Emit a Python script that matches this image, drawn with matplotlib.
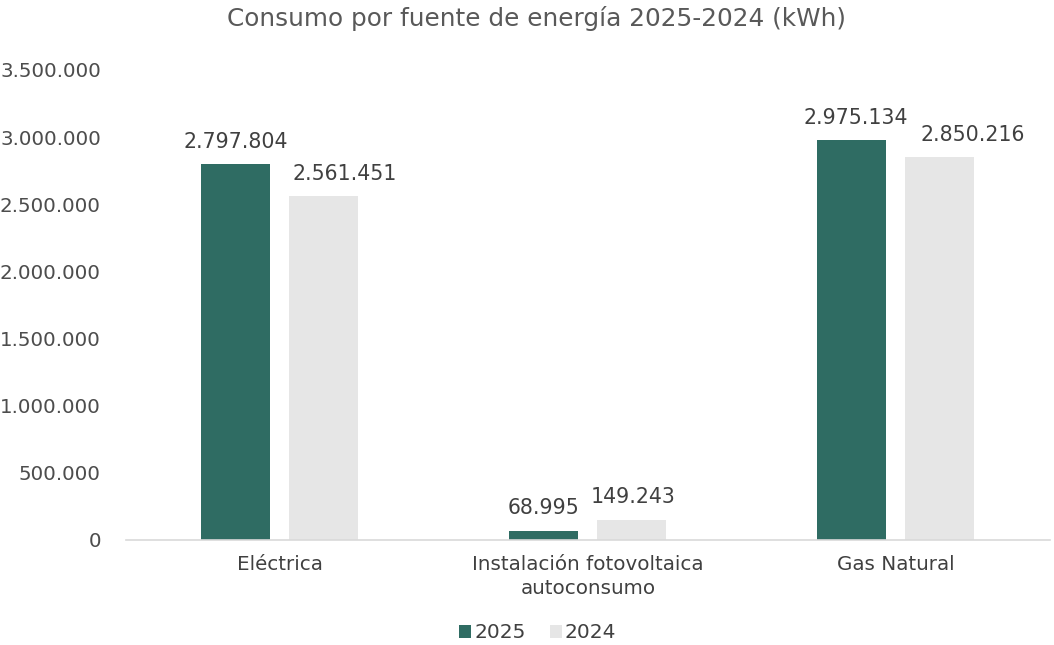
import numpy as np
import matplotlib.pyplot as plt

categories = ['Eléctrica', 'Instalación fotovoltaica\nautoconsumo', 'Gas Natural']
consumo_2025 = [2797804, 68995, 2975134]
consumo_2024 = [2561451, 149243, 2850216]
yticks = [0, 500000, 1000000, 1500000, 2000000, 2500000, 3000000, 3500000]

color_2025 = '#2f6c63'
color_2024 = '#e6e6e6'

# horizontal nudge (points) for the 2024 labels so they clear the 2025 ones
shift_2024 = [15, 1, 24]


def fmt(v):
    return f"{v:,.0f}".replace(",", ".")


plt.rcParams['font.family'] = ['DejaVu Sans']

fig = plt.figure(figsize=(10.54, 6.45), dpi=100)
ax = fig.add_axes([0.1195, 0.1628, 0.8765, 0.7287])

x = np.arange(len(categories))
width = 0.224
offset = 0.143

bars_a = ax.bar(x - offset, consumo_2025, width, color=color_2025, label='2025')
bars_b = ax.bar(x + offset, consumo_2024, width, color=color_2024, label='2024')

for bars, shifts in ((bars_a, [0, 0, 3]), (bars_b, shift_2024)):
    for b, dx in zip(bars, shifts):
        ax.annotate(fmt(b.get_height()),
                    (b.get_x() + b.get_width() / 2, b.get_height()),
                    xytext=(dx, 9), textcoords='offset points',
                    ha='center', va='bottom', fontsize=14.8, color='#404040')

ax.set_xlim(-0.5, len(categories) - 0.5)
ax.set_ylim(0, 3500000)
ax.set_yticks(yticks)
ax.set_yticklabels([fmt(v) for v in yticks])
ax.set_xticks(x)
ax.set_xticklabels(categories, linespacing=1.3)

ax.tick_params(axis='y', length=0, pad=18, labelsize=14.3, labelcolor='#4d4d4d')
ax.tick_params(axis='x', length=0, pad=11, labelsize=14.3, labelcolor='#404040')
for s in ('top', 'right', 'left'):
    ax.spines[s].set_visible(False)
ax.spines['bottom'].set_color('#d9d9d9')
ax.spines['bottom'].set_linewidth(1.2)

fig.suptitle('Consumo por fuente de energía 2025-2024 (kWh)', x=0.509, y=0.99,
             fontsize=17.8, color='#595959')

fig.legend(loc='center', bbox_to_anchor=(0.51, 0.019), ncol=2, frameon=False,
           fontsize=14.5, handlelength=0.6, handleheight=0.6, handletextpad=0.15,
           columnspacing=1.2, labelcolor='#404040')

fig.savefig('out.png', dpi=100)
